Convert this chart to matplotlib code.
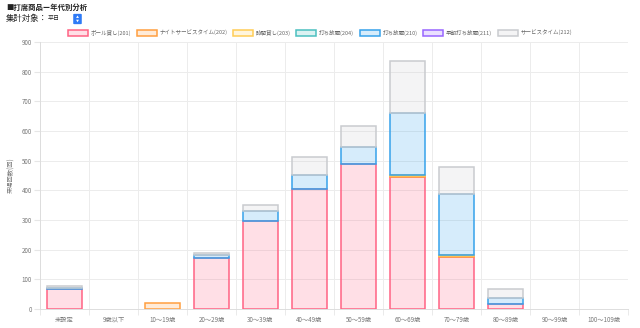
import matplotlib
matplotlib.use("Agg")
import matplotlib.pyplot as plt
from matplotlib.patches import Patch, FancyBboxPatch
import numpy as np

plt.rcParams['font.family'] = ['Noto Sans CJK JP', 'DejaVu Sans']

categories = ["未設定", "9歳以下", "10〜19歳", "20〜29歳", "30〜39歳", "40〜49歳",
              "50〜59歳", "60〜69歳", "70〜79歳", "80〜89歳", "90〜99歳", "100〜109歳"]
series_names = ["ボール貸し(201)", "ナイトサービスタイム(202)", "時間貸し(203)",
                "打ち放題(204)", "打ち放題(210)", "早朝打ち放題(211)", "サービスタイム(212)"]
ball_201 = [66, 0, 0, 172, 297, 406, 488, 445, 174, 17, 0, 0]
night_202 = [0, 0, 19, 0, 0, 0, 0, 4, 5, 0, 0, 0]
hourly_203 = [0, 0, 0, 0, 0, 0, 0, 4, 4, 0, 0, 0]
unlimited_204 = [0, 0, 0, 0, 0, 0, 0, 0, 0, 0, 0, 0]
unlimited_210 = [6, 0, 0, 9, 32, 47, 58, 206, 203, 21, 0, 0]
early_211 = [0, 0, 0, 0, 0, 0, 0, 0, 0, 0, 0, 0]
service_212 = [6, 0, 0, 8, 20, 58, 71, 178, 91, 28, 0, 0]
series_values = [ball_201, night_202, hourly_203, unlimited_204, unlimited_210, early_211, service_212]
y_ticks = [0, 100, 200, 300, 400, 500, 600, 700, 800, 900]

colors = [(255, 99, 132), (255, 159, 64), (255, 205, 86), (75, 192, 192),
          (54, 162, 235), (153, 102, 255), (201, 203, 207)]
colors = [tuple(c / 255 for c in col) for col in colors]

fig = plt.figure(figsize=(6.4, 3.28), dpi=100)
ax = fig.add_axes([40 / 640, 1 - 309 / 328, 588 / 640, 267 / 328])

x = np.arange(len(categories))
bottom = np.zeros(len(categories))
for name, vals, col in zip(series_names, series_values, colors):
    vals = np.array(vals, dtype=float)
    m = vals > 0
    if m.any():
        ax.bar(x[m], vals[m], bottom=bottom[m], width=0.72,
               facecolor=(*col, 0.2), edgecolor=col, linewidth=1.1, zorder=3)
    bottom += vals

ax.set_xlim(-0.5, len(categories) - 0.5)
ax.set_ylim(0, 900)
ax.set_yticks(y_ticks)
ax.set_yticklabels([str(v) for v in y_ticks], fontsize=4.5, color='#777777')
ax.set_xticks(x)
ax.set_xticklabels(categories, fontsize=4.5, color='#777777')
ax.set_xticks(np.arange(-0.5, len(categories)), minor=True)
ax.tick_params(axis='x', which='major', length=0, pad=5)
ax.tick_params(axis='x', which='minor', length=4, color='#e6e6e6')
ax.tick_params(axis='y', length=4, color='#e6e6e6', pad=2)
ax.grid(True, axis='y', color='#ececec', linewidth=0.7, zorder=0)
ax.grid(True, axis='x', which='minor', color='#ececec', linewidth=0.7, zorder=0)
ax.grid(False, axis='x', which='major')
for s in ['top', 'right']:
    ax.spines[s].set_visible(False)
ax.spines['left'].set_color('#dddddd')
ax.spines['bottom'].set_color('#dddddd')
ax.spines['left'].set_linewidth(0.7)
ax.spines['bottom'].set_linewidth(0.7)
ax.set_ylabel("来場回数(回)", fontsize=4.5, color='#777777', labelpad=4)

handles = [Patch(facecolor=(*c, 0.2), edgecolor=c, linewidth=1.1) for c in colors]
fig.legend(handles, series_names, loc='center', bbox_to_anchor=(0.5, 1 - 33 / 328),
           ncol=7, frameon=False, fontsize=4.0, handlelength=3.6, handleheight=1.1,
           handletextpad=0.5, columnspacing=1.0, labelcolor='#666666')

fig.text(6 / 640, 1 - 7 / 328, "■打席商品ー年代別分析", fontsize=5.3, fontweight='bold',
         va='center', ha='left', color='#222222')
fig.text(6 / 640, 1 - 19 / 328, "集計対象：", fontsize=6, va='center', ha='left', color='#222222')
fig.text(48 / 640, 1 - 19 / 328, "平日", fontsize=4.3, va='center', ha='left', color='#222222')
btn = FancyBboxPatch((74.5 / 640, 1 - 23.5 / 328), 6 / 640, 9 / 328,
                     boxstyle="round,pad=0.002", transform=fig.transFigure,
                     facecolor='#2f7bf6', edgecolor='none')
fig.patches.append(btn)
fig.text(77.5 / 640, 1 - 17.0 / 328, "▲", fontsize=2.2, color='white', ha='center', va='center')
fig.text(77.5 / 640, 1 - 20.8 / 328, "▼", fontsize=2.2, color='white', ha='center', va='center')

fig.savefig("out.png", dpi=100)
